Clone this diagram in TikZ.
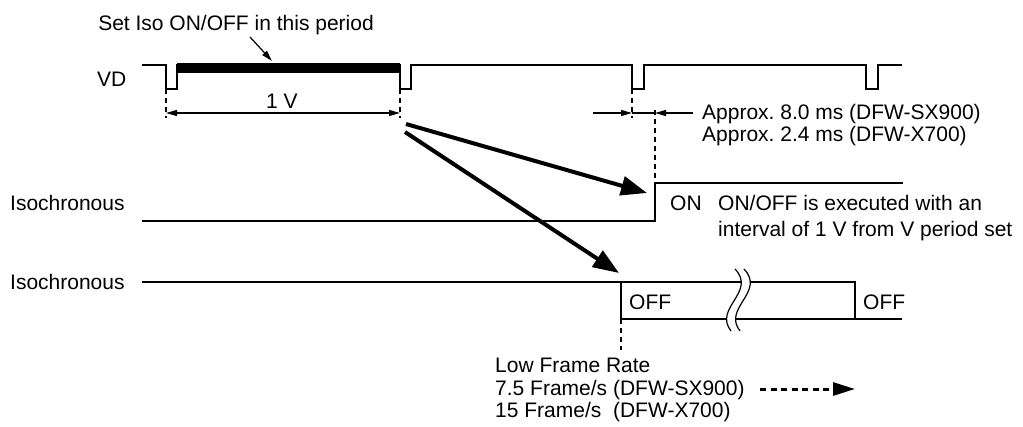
\documentclass[tikz,border=0pt]{standalone}
\usepackage{fontspec}
\setmainfont{Liberation Sans}
\usetikzlibrary{arrows.meta}
\frenchspacing
\begin{document}
\begin{tikzpicture}[x=1pt,y=-1pt,
  sig/.style={line width=2.2pt, line join=miter},
  guide/.style={line width=1.2pt, dash pattern=on 5pt off 4pt},
  thinarrow/.style={line width=1.2pt, -{Triangle[length=11pt,width=6pt]}},
  bigarrow/.style={line width=4pt, -{Triangle[length=26pt,width=19pt]}},
  lbl/.style={inner sep=0pt, font=\fontsize{21}{23}\selectfont},
  wave/.style={line width=1.2pt}]
\useasboundingbox (0,0) rectangle (1023,426);

% ---- VD signal
\coordinate (vdA) at (142,65);
\coordinate (vdB) at (902,65);
\draw[sig] (vdA) -| (166,89) -| (177,65) -| (400,89) -| (411,65) -| (632,89) -| (644,65) -| (866,89) -| (878,65) -- (vdB);
\fill (177,63) rectangle (400,73);

% ---- labels
\node[lbl, anchor=base] (setiso) at (236,30) {Set Iso ON/OFF in this period};
\coordinate (setA) at (250,37);
\coordinate (setB) at (272,61);
\draw[thinarrow] (setA) -- (setB);

\node[lbl, anchor=base west] (vd) at (97,86) {VD};
\node[lbl, anchor=base] (onev) at (282,108) {1 V};

% ---- guide lines
\coordinate (g1a) at (166,89);  \coordinate (g1b) at (166,118);
\coordinate (g2a) at (400,89);  \coordinate (g2b) at (400,118);
\coordinate (g3a) at (632,89);  \coordinate (g3b) at (632,118);
\coordinate (g4a) at (655,110); \coordinate (g4b) at (655,183);
\coordinate (g5a) at (621,319); \coordinate (g5b) at (621,350);
\draw[guide] (g1a) -- (g1b);
\draw[guide] (g2a) -- (g2b);
\draw[guide] (g3a) -- (g3b);
\draw[guide] (g4a) -- (g4b);
\draw[guide] (g5a) -- (g5b);

% ---- 1 V dimension
\coordinate (vL) at (166,113);
\coordinate (vR) at (400,113);
\draw[line width=1.2pt, {Triangle[length=11pt,width=6pt]}-{Triangle[length=11pt,width=6pt]}] (vL) -- (vR);

% ---- approx dimension
\coordinate (aL0) at (593,113);
\coordinate (aL) at (632,113);
\coordinate (aR) at (655,113);
\coordinate (aR0) at (693,113);
\draw[thinarrow] (aL0) -- (aL);
\draw[line width=1.2pt] (aL) -- (aR);
\draw[thinarrow] (aR0) -- (aR);
\node[lbl, anchor=base west] (approx1) at (702,119) {Approx. 8.0 ms (DFW-SX900)};
\node[lbl, anchor=base west] (approx2) at (702,141) {Approx. 2.4 ms (DFW-X700)};

% ---- Isochronous 1
\node[lbl, anchor=base west] (iso1) at (10,210) {Isochronous};
\coordinate (i1a) at (142,221);
\coordinate (i1b) at (655,221);
\coordinate (i1c) at (903,183);
\draw[sig] (i1a) -- (i1b) |- (i1c);
\node[lbl, anchor=base west] (on) at (670,210) {ON};
\node[lbl, anchor=base west] (exec1) at (718,210) {ON/OFF is executed with an};
\node[lbl, anchor=base west] (exec2) at (718,236) {interval of 1 V from V period set};

% ---- Isochronous 2
\node[lbl, anchor=base west] (iso2) at (10,289) {Isochronous};
\coordinate (i2a) at (142,282);
\coordinate (i2b) at (855,282);
\coordinate (i2c) at (855,319);
\coordinate (i2d) at (621,282);
\coordinate (i2e) at (621,319);
\coordinate (i2f) at (902,319);
\draw[sig] (i2a) -- (i2b) -- (i2c);
\draw[sig] (i2d) -- (i2e) -- (i2f);
\node[lbl, anchor=base west] (off1) at (629,309) {OFF};
\node[lbl, anchor=base west] (off2) at (863,309) {OFF};

% ---- break mark
\fill[white] (735,269) .. controls (757,292) and (713,308) .. (731,331)
   -- (740,331) .. controls (722,308) and (766,292) .. (744,269) -- cycle;
\draw[wave] (735,269) .. controls (757,292) and (713,308) .. (731,331);
\draw[wave] (744,269) .. controls (766,292) and (722,308) .. (740,331);

% ---- big arrows
\coordinate (b1s) at (406,124);
\coordinate (b1e) at (647,193);
\coordinate (b2s) at (405,132);
\coordinate (b2e) at (619,273);
\draw[bigarrow] (b1s) -- (b1e);
\draw[bigarrow] (b2s) -- (b2e);

% ---- low frame rate
\node[lbl, anchor=base west] (lfr1) at (495,372) {Low Frame Rate};
\node[lbl, anchor=base west] (lfr2) at (495,395) {7.5 Frame/s (DFW-SX900)};
\node[lbl, anchor=base west] (lfr3) at (495,417) {15 Frame/s\ \ (DFW-X700)};
\coordinate (dA) at (760,389);
\coordinate (dB) at (855,389);
\draw[line width=3pt, dash pattern=on 6pt off 4.5pt, -{Triangle[length=22pt,width=13pt]}] (dA) -- (dB);
\end{tikzpicture}
\end{document}
